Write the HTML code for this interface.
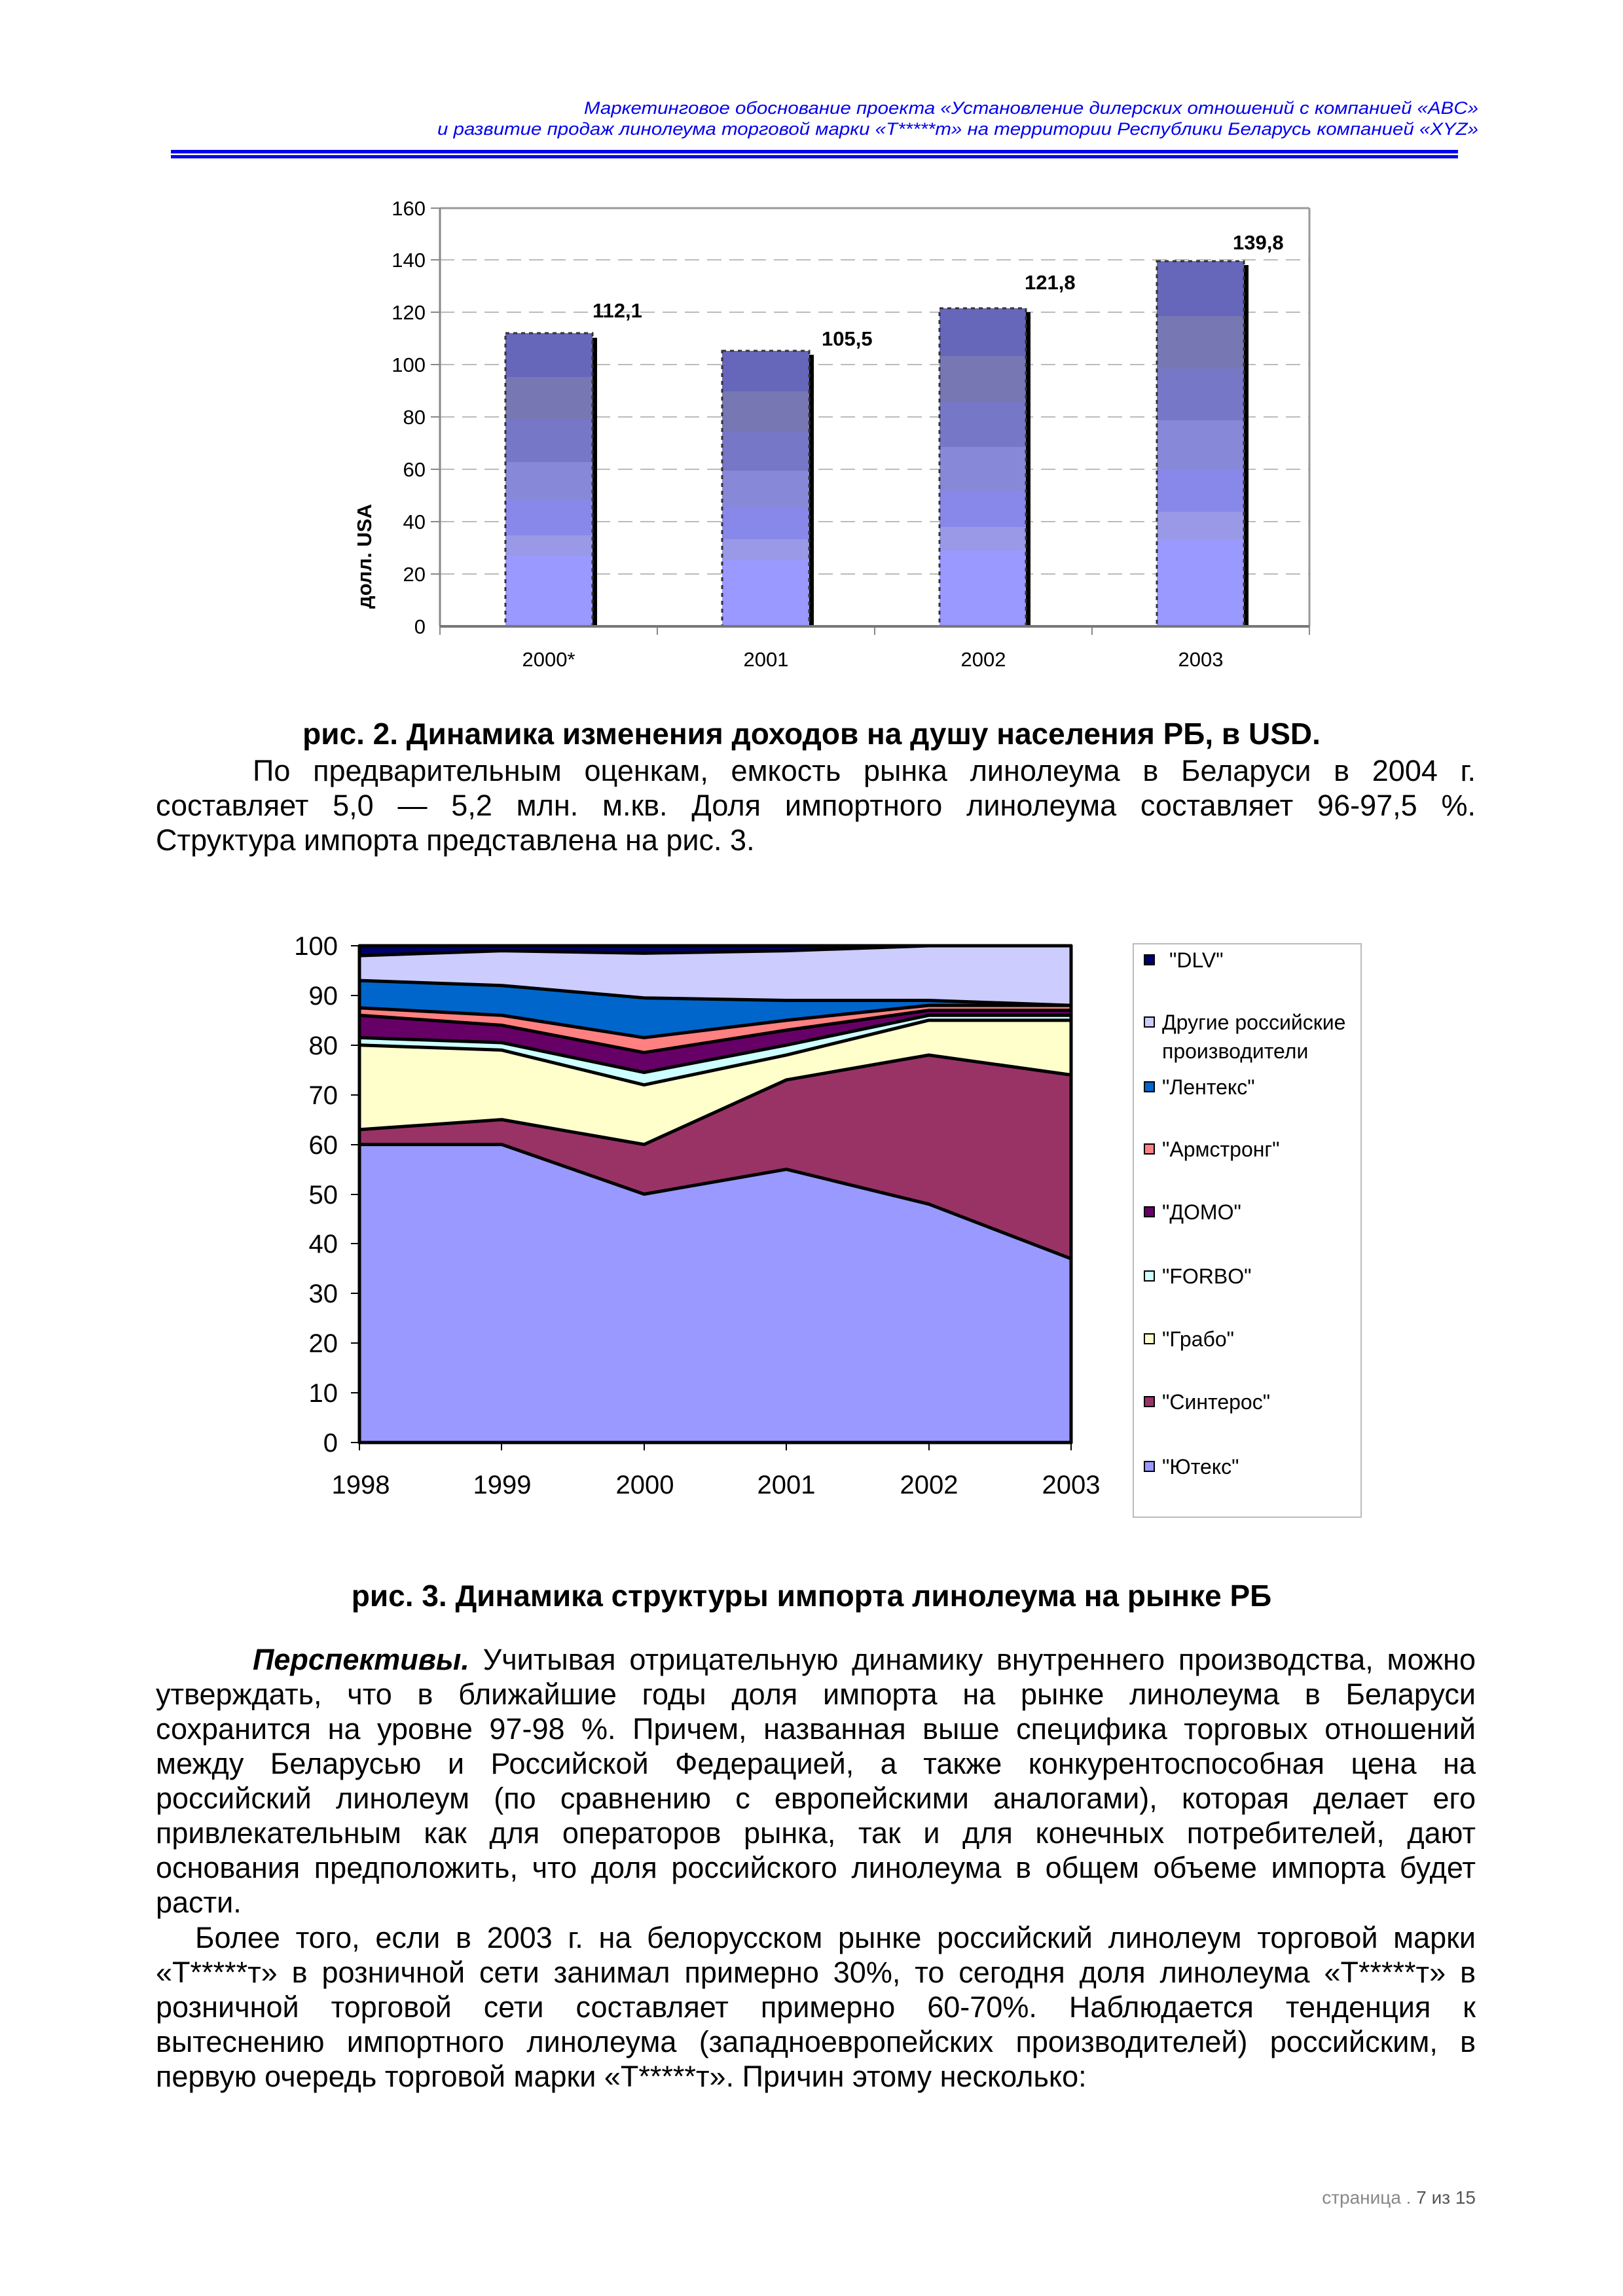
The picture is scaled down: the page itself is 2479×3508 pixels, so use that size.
<!DOCTYPE html>
<html><head><meta charset="utf-8"><style>
html,body{margin:0;padding:0;background:#fff}
body{width:2479px;height:3508px;position:relative;overflow:hidden;font-family:"Liberation Sans","DejaVu Sans",sans-serif}
.ln{position:absolute;left:238px;width:2016px;font-size:45px;line-height:53px;height:53px;white-space:nowrap;text-align:justify;text-align-last:justify;color:#000}
.ln.l{text-align-last:left}
.cap{position:absolute;left:0;width:2479px;text-align:center;font-weight:bold;font-size:46px;line-height:53px}
</style></head><body>
<svg width="2479" height="3508" style="position:absolute;left:0;top:0" xmlns="http://www.w3.org/2000/svg">
<g font-family="Liberation Sans, sans-serif" font-style="italic" fill="#0000ee" font-size="27">
<text x="2258" y="174" text-anchor="end" textLength="1366" lengthAdjust="spacingAndGlyphs">Маркетинговое обоснование проекта «Установление дилерских отношений с компанией «ABC»</text>
<text x="2258" y="206" text-anchor="end" textLength="1590" lengthAdjust="spacingAndGlyphs">и развитие продаж линолеума торговой марки «Т*****т» на территории Республики Беларусь компанией «XYZ»</text>
</g>
<rect x="261" y="229" width="1966" height="5" fill="#0000ee"/>
<rect x="261" y="237" width="1966" height="5" fill="#0000ee"/>
<rect x="261" y="234" width="1966" height="1" fill="#9999ff"/>

<!-- chart 1 -->
<g stroke="#bbb" stroke-width="2" stroke-dasharray="22,12">
<line x1="672" y1="397" x2="2000" y2="397"/><line x1="672" y1="477" x2="2000" y2="477"/>
<line x1="672" y1="557" x2="2000" y2="557"/><line x1="672" y1="637" x2="2000" y2="637"/>
<line x1="672" y1="717" x2="2000" y2="717"/><line x1="672" y1="797" x2="2000" y2="797"/>
<line x1="672" y1="877" x2="2000" y2="877"/>
</g>
<line x1="672" y1="318" x2="2000" y2="318" stroke="#999" stroke-width="3"/>
<line x1="2000" y1="318" x2="2000" y2="957" stroke="#999" stroke-width="3"/>
<line x1="672" y1="318" x2="672" y2="957" stroke="#888" stroke-width="3"/>
<g stroke="#888" stroke-width="2">
<line x1="658" y1="318" x2="672" y2="318"/><line x1="658" y1="397" x2="672" y2="397"/><line x1="658" y1="477" x2="672" y2="477"/><line x1="658" y1="557" x2="672" y2="557"/><line x1="658" y1="637" x2="672" y2="637"/><line x1="658" y1="717" x2="672" y2="717"/><line x1="658" y1="797" x2="672" y2="797"/><line x1="658" y1="877" x2="672" y2="877"/>
<line x1="672" y1="957" x2="672" y2="970"/><line x1="1004" y1="957" x2="1004" y2="970"/><line x1="1336" y1="957" x2="1336" y2="970"/><line x1="1668" y1="957" x2="1668" y2="970"/><line x1="2000" y1="957" x2="2000" y2="970"/>
</g>
<g font-size="31" fill="#000" text-anchor="end">
<text x="650" y="329">160</text><text x="650" y="408">140</text><text x="650" y="488">120</text><text x="650" y="568">100</text><text x="650" y="648">80</text><text x="650" y="728">60</text><text x="650" y="808">40</text><text x="650" y="888">20</text><text x="650" y="968">0</text>
</g>
<g font-size="31" fill="#000" text-anchor="middle">
<text x="838" y="1018">2000*</text><text x="1170" y="1018">2001</text><text x="1502" y="1018">2002</text><text x="1834" y="1018">2003</text>
</g>
<g font-size="31" font-weight="bold" fill="#000">
<text x="905" y="485">112,1</text><text x="1255" y="528">105,5</text><text x="1565" y="442">121,8</text><text x="1883" y="381">139,8</text>
</g>
<text transform="translate(567,850) rotate(-90)" font-size="31" font-weight="bold" text-anchor="middle">долл. USA</text>

<!-- bars -->
<rect x="905" y="516" width="7" height="441" fill="#000"/>
<rect x="772" y="509" width="133" height="448" fill="#6666bb"/>
<rect x="772" y="576" width="133" height="381" fill="#7777b4"/>
<rect x="772" y="641" width="133" height="316" fill="#7777c8"/>
<rect x="772" y="706" width="133" height="251" fill="#8888d8"/>
<rect x="772" y="764" width="133" height="193" fill="#8888ea"/>
<rect x="772" y="818" width="133" height="139" fill="#9999e8"/>
<rect x="772" y="849" width="133" height="108" fill="#9999ff"/>
<rect x="772" y="509" width="133" height="448" fill="none" stroke="#333" stroke-width="3" stroke-dasharray="6,6"/>

<rect x="1236" y="542" width="7" height="415" fill="#000"/>
<rect x="1103" y="536" width="133" height="421" fill="#6666bb"/>
<rect x="1103" y="598" width="133" height="359" fill="#7777b4"/>
<rect x="1103" y="660" width="133" height="297" fill="#7777c8"/>
<rect x="1103" y="719" width="133" height="238" fill="#8888d8"/>
<rect x="1103" y="776" width="133" height="181" fill="#8888ea"/>
<rect x="1103" y="824" width="133" height="133" fill="#9999e8"/>
<rect x="1103" y="856" width="133" height="101" fill="#9999ff"/>
<rect x="1103" y="536" width="133" height="421" fill="none" stroke="#333" stroke-width="3" stroke-dasharray="6,6"/>

<rect x="1567" y="477" width="7" height="480" fill="#000"/>
<rect x="1435" y="471" width="132" height="486" fill="#6666bb"/>
<rect x="1435" y="544" width="132" height="413" fill="#7777b4"/>
<rect x="1435" y="615" width="132" height="342" fill="#7777c8"/>
<rect x="1435" y="683" width="132" height="274" fill="#8888d8"/>
<rect x="1435" y="750" width="132" height="207" fill="#8888ea"/>
<rect x="1435" y="805" width="132" height="152" fill="#9999e8"/>
<rect x="1435" y="841" width="132" height="116" fill="#9999ff"/>
<rect x="1435" y="471" width="132" height="486" fill="none" stroke="#333" stroke-width="3" stroke-dasharray="6,6"/>

<rect x="1900" y="405" width="7" height="552" fill="#000"/>
<rect x="1767" y="399" width="133" height="558" fill="#6666bb"/>
<rect x="1767" y="483" width="133" height="474" fill="#7777b4"/>
<rect x="1767" y="563" width="133" height="394" fill="#7777c8"/>
<rect x="1767" y="642" width="133" height="315" fill="#8888d8"/>
<rect x="1767" y="718" width="133" height="239" fill="#8888ea"/>
<rect x="1767" y="782" width="133" height="175" fill="#9999e8"/>
<rect x="1767" y="824" width="133" height="133" fill="#9999ff"/>
<rect x="1767" y="399" width="133" height="558" fill="none" stroke="#333" stroke-width="3" stroke-dasharray="6,6"/>
<line x1="672" y1="957" x2="2000" y2="957" stroke="#777" stroke-width="4"/>

<!-- chart 2 -->
<g transform="translate(549,2204) scale(217.4,-7.59)" stroke="#000" stroke-width="5" stroke-linejoin="round">
<polygon vector-effect="non-scaling-stroke" fill="#000066" points="0,0 5,0 5,100 0,100"/>
<polygon vector-effect="non-scaling-stroke" fill="#ccccff" points="0,0 0,98 1,99 2,98.5 3,99 4,100 5,100 5,0"/>
<polygon vector-effect="non-scaling-stroke" fill="#0066cc" points="0,0 0,93 1,92 2,89.5 3,89 4,89 5,88 5,0"/>
<polygon vector-effect="non-scaling-stroke" fill="#ff8080" points="0,0 0,87.5 1,86 2,81.5 3,85 4,88 5,88 5,0"/>
<polygon vector-effect="non-scaling-stroke" fill="#660066" points="0,0 0,86 1,84 2,78.5 3,83 4,87 5,87 5,0"/>
<polygon vector-effect="non-scaling-stroke" fill="#ccffff" points="0,0 0,81.5 1,80.5 2,74.5 3,80 4,86 5,86 5,0"/>
<polygon vector-effect="non-scaling-stroke" fill="#ffffcc" points="0,0 0,80 1,79 2,72 3,78 4,85 5,85 5,0"/>
<polygon vector-effect="non-scaling-stroke" fill="#993366" points="0,0 0,63 1,65 2,60 3,73 4,78 5,74 5,0"/>
<polygon vector-effect="non-scaling-stroke" fill="#9999ff" points="0,0 0,60 1,60 2,50 3,55 4,48 5,37 5,0"/>
<polyline vector-effect="non-scaling-stroke" fill="none" points="0,100 0,0 5,0 5,100 0,100"/>
</g>
<g stroke="#000" stroke-width="2">
<line x1="536" y1="1445" x2="549" y2="1445"/><line x1="536" y1="1521" x2="549" y2="1521"/><line x1="536" y1="1597" x2="549" y2="1597"/><line x1="536" y1="1673" x2="549" y2="1673"/><line x1="536" y1="1749" x2="549" y2="1749"/><line x1="536" y1="1825" x2="549" y2="1825"/><line x1="536" y1="1900" x2="549" y2="1900"/><line x1="536" y1="1976" x2="549" y2="1976"/><line x1="536" y1="2052" x2="549" y2="2052"/><line x1="536" y1="2128" x2="549" y2="2128"/><line x1="536" y1="2204" x2="549" y2="2204"/>
<line x1="549" y1="2204" x2="549" y2="2216"/><line x1="766" y1="2204" x2="766" y2="2216"/><line x1="984" y1="2204" x2="984" y2="2216"/><line x1="1201" y1="2204" x2="1201" y2="2216"/><line x1="1419" y1="2204" x2="1419" y2="2216"/><line x1="1636" y1="2204" x2="1636" y2="2216"/>
</g>
<g font-size="40" fill="#000" text-anchor="end">
<text x="516" y="1459">100</text><text x="516" y="1535">90</text><text x="516" y="1611">80</text><text x="516" y="1687">70</text><text x="516" y="1763">60</text><text x="516" y="1839">50</text><text x="516" y="1914">40</text><text x="516" y="1990">30</text><text x="516" y="2066">20</text><text x="516" y="2142">10</text><text x="516" y="2218">0</text>
</g>
<g font-size="40" fill="#000" text-anchor="middle">
<text x="551" y="2282">1998</text><text x="767" y="2282">1999</text><text x="985" y="2282">2000</text><text x="1201" y="2282">2001</text><text x="1419" y="2282">2002</text><text x="1636" y="2282">2003</text>
</g>
<rect x="1731" y="1442" width="348" height="876" fill="#fff" stroke="#bbb" stroke-width="2"/>
<g stroke="#000" stroke-width="2">
<rect x="1748" y="1459" width="15" height="15" fill="#000066"/>
<rect x="1748" y="1554" width="15" height="15" fill="#ccccff"/>
<rect x="1748" y="1653" width="15" height="15" fill="#0066cc"/>
<rect x="1748" y="1748" width="15" height="15" fill="#ff8080"/>
<rect x="1748" y="1844" width="15" height="15" fill="#660066"/>
<rect x="1748" y="1942" width="15" height="15" fill="#ccffff"/>
<rect x="1748" y="2038" width="15" height="15" fill="#ffffcc"/>
<rect x="1748" y="2134" width="15" height="15" fill="#993366"/>
<rect x="1748" y="2233" width="15" height="15" fill="#9999ff"/>
</g>
<g font-size="32" fill="#000">
<text x="1786" y="1478">"DLV"</text>
<text x="1775" y="1573">Другие российские</text>
<text x="1775" y="1617">производители</text>
<text x="1775" y="1672">"Лентекс"</text>
<text x="1775" y="1767">"Армстронг"</text>
<text x="1775" y="1863">"ДОМО"</text>
<text x="1775" y="1961">"FORBO"</text>
<text x="1775" y="2057">"Грабо"</text>
<text x="1775" y="2153">"Синтерос"</text>
<text x="1775" y="2252">"Ютекс"</text>
</g>
<text x="2254" y="3367" font-size="28" fill="#888" text-anchor="end">страница . <tspan fill="#555">7 из 15</tspan></text>
</svg>

<div class="cap" style="top:1095px;left:0">рис. 2. Динамика изменения доходов на душу населения РБ, в USD.</div>
<div class="ln" style="top:1151px;padding-left:148px;width:1868px">По предварительным оценкам, емкость рынка линолеума в Беларуси в 2004 г.</div>
<div class="ln" style="top:1204px">составляет 5,0 — 5,2 млн. м.кв. Доля импортного линолеума составляет 96-97,5 %.</div>
<div class="ln l" style="top:1257px">Структура импорта представлена на рис. 3.</div>

<div class="cap" style="top:2412px">рис. 3. Динамика структуры импорта линолеума на рынке РБ</div>

<div class="ln" style="top:2509px;padding-left:148px;width:1868px"><b><i>Перспективы.</i></b> Учитывая отрицательную динамику внутреннего производства, можно</div>
<div class="ln" style="top:2562px">утверждать, что в ближайшие годы доля импорта на рынке линолеума в Беларуси</div>
<div class="ln" style="top:2615px">сохранится на уровне 97-98 %. Причем, названная выше специфика торговых отношений</div>
<div class="ln" style="top:2668px">между Беларусью и Российской Федерацией, а также конкурентоспособная цена на</div>
<div class="ln" style="top:2721px">российский линолеум (по сравнению с европейскими аналогами), которая делает его</div>
<div class="ln" style="top:2774px">привлекательным как для операторов рынка, так и для конечных потребителей, дают</div>
<div class="ln" style="top:2827px">основания предположить, что доля российского линолеума в общем объеме импорта будет</div>
<div class="ln l" style="top:2880px">расти.</div>
<div class="ln" style="top:2934px;padding-left:60px;width:1956px">Более того, если в 2003 г. на белорусском рынке российский линолеум торговой марки</div>
<div class="ln" style="top:2987px">«Т*****т» в розничной сети занимал примерно 30%, то сегодня доля линолеума «Т*****т» в</div>
<div class="ln" style="top:3040px">розничной торговой сети составляет примерно 60-70%. Наблюдается тенденция к</div>
<div class="ln" style="top:3093px">вытеснению импортного линолеума (западноевропейских производителей) российским, в</div>
<div class="ln l" style="top:3146px">первую очередь торговой марки «Т*****т». Причин этому несколько:</div>
</body></html>
